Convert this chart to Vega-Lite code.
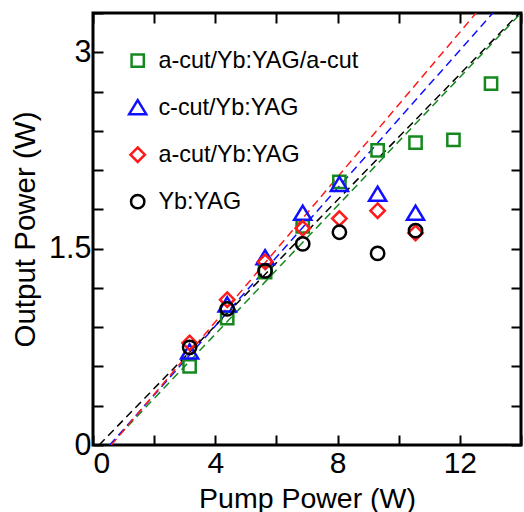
{
  "$schema": "https://vega.github.io/schema/vega-lite/v6.json",
  "width": 428,
  "height": 432,
  "autosize": "none",
  "padding": {"left": 93, "top": 13, "right": 3, "bottom": 67},
  "background": "white",
  "config": {
    "view": {"stroke": "black", "strokeWidth": 3},
    "font": "Liberation Sans",
    "axis": {"labelFont": "Liberation Sans", "titleFont": "Liberation Sans", "labelColor": "black", "titleColor": "black", "tickColor": "black", "titleFontWeight": "normal", "grid": false, "domain": false}
  },
  "datasets": {
    "pts": [
      {"series": "a-cut/Yb:YAG/a-cut", "x": 3.16, "y": 0.60},
      {"series": "a-cut/Yb:YAG/a-cut", "x": 4.39, "y": 0.97},
      {"series": "a-cut/Yb:YAG/a-cut", "x": 5.63, "y": 1.32},
      {"series": "a-cut/Yb:YAG/a-cut", "x": 6.86, "y": 1.67},
      {"series": "a-cut/Yb:YAG/a-cut", "x": 8.06, "y": 2.01},
      {"series": "a-cut/Yb:YAG/a-cut", "x": 9.31, "y": 2.25},
      {"series": "a-cut/Yb:YAG/a-cut", "x": 10.55, "y": 2.31},
      {"series": "a-cut/Yb:YAG/a-cut", "x": 11.79, "y": 2.33},
      {"series": "a-cut/Yb:YAG/a-cut", "x": 13.02, "y": 2.76},
      {"series": "c-cut/Yb:YAG", "x": 3.16, "y": 0.71},
      {"series": "c-cut/Yb:YAG", "x": 4.39, "y": 1.07},
      {"series": "c-cut/Yb:YAG", "x": 5.63, "y": 1.43},
      {"series": "c-cut/Yb:YAG", "x": 6.86, "y": 1.77},
      {"series": "c-cut/Yb:YAG", "x": 8.06, "y": 1.99},
      {"series": "c-cut/Yb:YAG", "x": 9.31, "y": 1.915},
      {"series": "c-cut/Yb:YAG", "x": 10.55, "y": 1.77},
      {"series": "a-cut/Yb:YAG", "x": 3.16, "y": 0.78},
      {"series": "a-cut/Yb:YAG", "x": 4.39, "y": 1.11},
      {"series": "a-cut/Yb:YAG", "x": 5.63, "y": 1.40},
      {"series": "a-cut/Yb:YAG", "x": 6.86, "y": 1.655},
      {"series": "a-cut/Yb:YAG", "x": 8.06, "y": 1.73},
      {"series": "a-cut/Yb:YAG", "x": 9.31, "y": 1.79},
      {"series": "a-cut/Yb:YAG", "x": 10.55, "y": 1.62},
      {"series": "Yb:YAG", "x": 3.16, "y": 0.746},
      {"series": "Yb:YAG", "x": 4.39, "y": 1.04},
      {"series": "Yb:YAG", "x": 5.63, "y": 1.33},
      {"series": "Yb:YAG", "x": 6.86, "y": 1.536},
      {"series": "Yb:YAG", "x": 8.06, "y": 1.625},
      {"series": "Yb:YAG", "x": 9.31, "y": 1.464},
      {"series": "Yb:YAG", "x": 10.55, "y": 1.637}
    ],
    "fits": [
      {"series": "a-cut/Yb:YAG/a-cut", "x": 0.55, "y": 0},
      {"series": "a-cut/Yb:YAG/a-cut", "x": 14, "y": 3.3},
      {"series": "c-cut/Yb:YAG", "x": 0.55, "y": 0},
      {"series": "c-cut/Yb:YAG", "x": 13.08, "y": 3.3},
      {"series": "a-cut/Yb:YAG", "x": 0.6, "y": 0},
      {"series": "a-cut/Yb:YAG", "x": 12.53, "y": 3.3},
      {"series": "Yb:YAG", "x": 0.2, "y": 0},
      {"series": "Yb:YAG", "x": 13.95, "y": 3.3}
    ]
  },
  "resolve": {"axis": {"x": "independent", "y": "independent"}},
  "layer": [
    {
      "data": {"name": "fits"},
      "mark": {"type": "line", "strokeDash": [8, 5], "strokeWidth": 1.5, "clip": true},
      "encoding": {
        "x": {"field": "x", "type": "quantitative", "scale": {"domain": [0, 14], "nice": false},
              "axis": {"orient": "top", "values": [0, 2, 4, 6, 8, 10, 12, 14], "labels": false, "tickSize": -10, "tickWidth": 2, "title": null}},
        "y": {"field": "y", "type": "quantitative", "scale": {"domain": [0, 3.3], "nice": false, "zero": false},
              "axis": {"orient": "right", "values": [0, 0.3, 0.6, 0.9, 1.2, 1.5, 1.8, 2.1, 2.4, 2.7, 3.0, 3.3], "labels": false, "tickSize": -10, "tickWidth": 2, "title": null}},
        "color": {"field": "series", "type": "nominal",
                  "scale": {"domain": ["a-cut/Yb:YAG/a-cut", "c-cut/Yb:YAG", "a-cut/Yb:YAG", "Yb:YAG"], "range": ["#15891f", "#1010ff", "#ff1a1a", "#000000"]}},
        "detail": {"field": "series"}
      }
    },
    {
      "data": {"name": "pts"},
      "mark": {"type": "point", "filled": false, "strokeWidth": 2.5, "opacity": 1, "size": 324},
      "encoding": {
        "x": {"field": "x", "type": "quantitative", "scale": {"domain": [0, 14], "nice": false},
              "axis": {"orient": "bottom", "values": [0, 2, 4, 6, 8, 10, 12, 14], "labelExpr": "datum.value % 4 == 0 ? datum.label : ''", "tickSize": -10, "tickWidth": 2, "labelFontSize": 30, "labelPadding": 13, "title": "Pump Power (W)", "titleFontSize": 28.5, "titlePadding": 6}},
        "y": {"field": "y", "type": "quantitative", "scale": {"domain": [0, 3.3], "nice": false, "zero": false},
              "axis": {"orient": "left", "values": [0, 0.3, 0.6, 0.9, 1.2, 1.5, 1.8, 2.1, 2.4, 2.7, 3.0, 3.3], "labelExpr": "datum.value == 0 ? '0' : (datum.value == 1.5 ? '1.5' : (datum.value == 3 ? '3' : ''))", "tickSize": -10, "tickWidth": 2, "labelFontSize": 30.5, "labelPadding": 12, "title": "Output Power (W)", "titleFontSize": 29.5, "titlePadding": 8}},
        "color": {"field": "series", "type": "nominal",
                  "scale": {"domain": ["a-cut/Yb:YAG/a-cut", "c-cut/Yb:YAG", "a-cut/Yb:YAG", "Yb:YAG"], "range": ["#15891f", "#1010ff", "#ff1a1a", "#000000"]},
                  "legend": {"orient": "none", "legendX": 33, "legendY": 36, "title": null, "padding": 0, "labelFontSize": 23.4, "labelFont": "Liberation Sans", "labelLimit": 0, "labelOffset": 9, "rowPadding": 22, "symbolSize": 324, "symbolStrokeWidth": 2.5,
                             "encode": {"labels": {"update": {"fill": {"signal": "datum.value == 'a-cut/Yb:YAG/a-cut' ? '#1f9a50' : scale('color', datum.value)"}}}}}},
        "shape": {"field": "series", "type": "nominal",
                  "scale": {"domain": ["a-cut/Yb:YAG/a-cut", "c-cut/Yb:YAG", "a-cut/Yb:YAG", "Yb:YAG"],
                            "range": ["M-0.68,-0.68H0.68V0.68H-0.68Z", "M0,-0.85L0.95,0.72L-0.95,0.72Z", "M0,-0.8L0.8,0L0,0.8L-0.8,0Z", "M0.74,0A0.74,0.74,0,1,1,-0.74,0A0.74,0.74,0,1,1,0.74,0Z"]}}
      }
    }
  ]
}
